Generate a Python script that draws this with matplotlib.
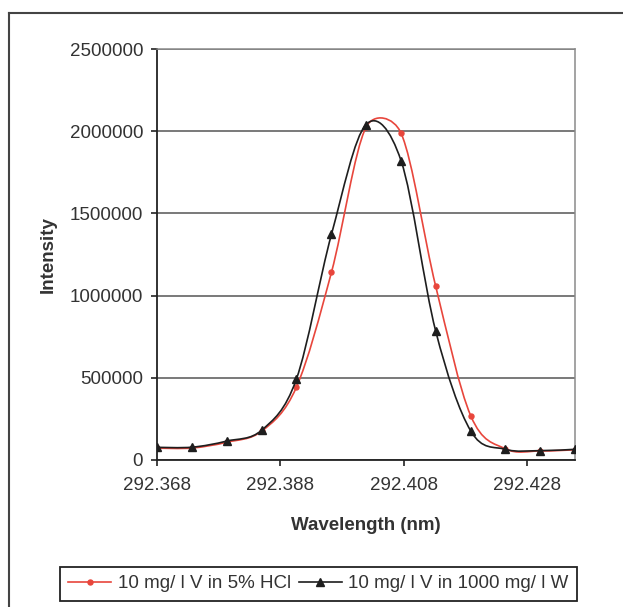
import matplotlib
matplotlib.use("Agg")
import matplotlib.pyplot as plt
import numpy as np
from matplotlib.path import Path
from matplotlib.patches import PathPatch
from matplotlib.lines import Line2D

# Datos
wavelength = [292.3680, 292.3737, 292.3793, 292.3850, 292.3906, 292.3963, 292.4019,
              292.4076, 292.4132, 292.4189, 292.4245, 292.4302, 292.4358]
hcl = [72000, 73000, 108000, 176000, 442000, 1142000, 2024000,
       1987000, 1058000, 268000, 68000, 55000, 62000]
tungsten = [77000, 78000, 115000, 182000, 491000, 1373000, 2040000,
            1819000, 785000, 176000, 65000, 57000, 65000]
labels = ["10 mg/ l V in 5% HCl", "10 mg/ l V in 1000 mg/ l W"]
xticks = [292.368, 292.388, 292.408, 292.428]
yticks = [0, 500000, 1000000, 1500000, 2000000, 2500000]

plt.rcParams["font.family"] = ["Liberation Sans", "DejaVu Sans"]
FS = 13.5
TXT = "#333333"

W, H = 623, 607
fig = plt.figure(figsize=(W / 100, H / 100), dpi=100)
ax = fig.add_axes([157 / W, 1 - 460 / H, (575 - 157) / W, (460 - 49) / H])
ax.set_xlim(wavelength[0], wavelength[-1])
ax.set_ylim(0, 2500000)


# Curva suavizada tipo Excel (Bezier con tangentes de 1/6, limitadas en pixeles)
def smooth_path(xs, ys):
    pts = np.column_stack([xs, ys]).astype(float)
    pix = ax.transData.transform(pts)
    n = len(pts)
    verts = [pts[0]]
    codes = [Path.MOVETO]
    for i in range(n - 1):
        p0, p3 = pts[i], pts[i + 1]
        q0, q3 = pix[i], pix[i + 1]
        pm = pts[i - 1] if i > 0 else pts[i]
        pp = pts[i + 2] if i + 2 < n else pts[i + 1]
        qm = pix[i - 1] if i > 0 else pix[i]
        qp = pix[i + 2] if i + 2 < n else pix[i + 1]
        t1 = (p3 - pm) / 6.0
        t2 = (pp - p0) / 6.0
        l1 = np.hypot(*((q3 - qm) / 6.0))
        l2 = np.hypot(*((qp - q0) / 6.0))
        chord = np.hypot(*(q3 - q0))
        f = 1.0
        if l1 + l2 > chord and l1 + l2 > 0:
            f = chord / (l1 + l2)
        verts += [p0 + t1 * f, p3 - t2 * f, p3]
        codes += [Path.CURVE4] * 3
    return Path(verts, codes)


red = "#e8463c"
blk = "#1e1e1e"
ax.add_patch(PathPatch(smooth_path(wavelength, hcl), fill=False, edgecolor=red, lw=1.2, zorder=3))
ax.plot(wavelength, hcl, "o", color=red, ms=3.6, zorder=4)
ax.add_patch(PathPatch(smooth_path(wavelength, tungsten), fill=False, edgecolor=blk, lw=1.2, zorder=5))
ax.plot(wavelength, tungsten, "^", color=blk, ms=5.5, zorder=6)

ax.set_xticks(xticks)
ax.set_xticklabels(["%.3f" % v for v in xticks])
ax.set_yticks(yticks)
ax.set_yticklabels([str(v) for v in yticks])
ax.tick_params(axis="both", direction="out", length=4, width=1.2, colors="#222222",
               labelsize=FS, labelcolor=TXT)
ax.tick_params(axis="x", pad=8)
ax.tick_params(axis="y", pad=6)
ax.yaxis.grid(True, color="#555555", lw=1.1)
ax.set_axisbelow(True)
for s in ["top", "right"]:
    ax.spines[s].set_color("#8a8a8a")
    ax.spines[s].set_linewidth(1.1)
for s in ["left", "bottom"]:
    ax.spines[s].set_color("#222222")
    ax.spines[s].set_linewidth(1.3)

ax.set_xlabel("Wavelength (nm)", fontsize=FS, fontweight="bold", color=TXT, va="center")
ax.xaxis.set_label_coords(0.5, (460 - 526) / 411)
ax.set_ylabel("Intensity", fontsize=FS, fontweight="bold", color=TXT, va="center")
ax.yaxis.set_label_coords((48 - 157) / 418, 0.5)

# Leyenda
handles = [Line2D([], [], color=red, lw=1.2, marker="o", ms=3.6),
           Line2D([], [], color=blk, lw=1.2, marker="^", ms=5.5)]
leg = fig.legend(handles, labels, loc="center", bbox_to_anchor=(318.5 / W, 1 - 583.5 / H),
                 ncol=2, fontsize=FS, frameon=True, fancybox=False, framealpha=1,
                 edgecolor="#222222", handlelength=2.3, handletextpad=0.35,
                 columnspacing=0.4, borderpad=0.45, borderaxespad=0)
leg.get_frame().set_linewidth(1.3)
for t in leg.get_texts():
    t.set_color(TXT)

# Borde exterior del area del grafico
fig.add_artist(Line2D([9 / W, 9 / W], [1 - 13 / H, 0], transform=fig.transFigure, color="#444444", lw=1.5))
fig.add_artist(Line2D([9 / W, 1], [1 - 13 / H, 1 - 13 / H], transform=fig.transFigure, color="#444444", lw=1.5))

plt.savefig("out.png", dpi=100)
